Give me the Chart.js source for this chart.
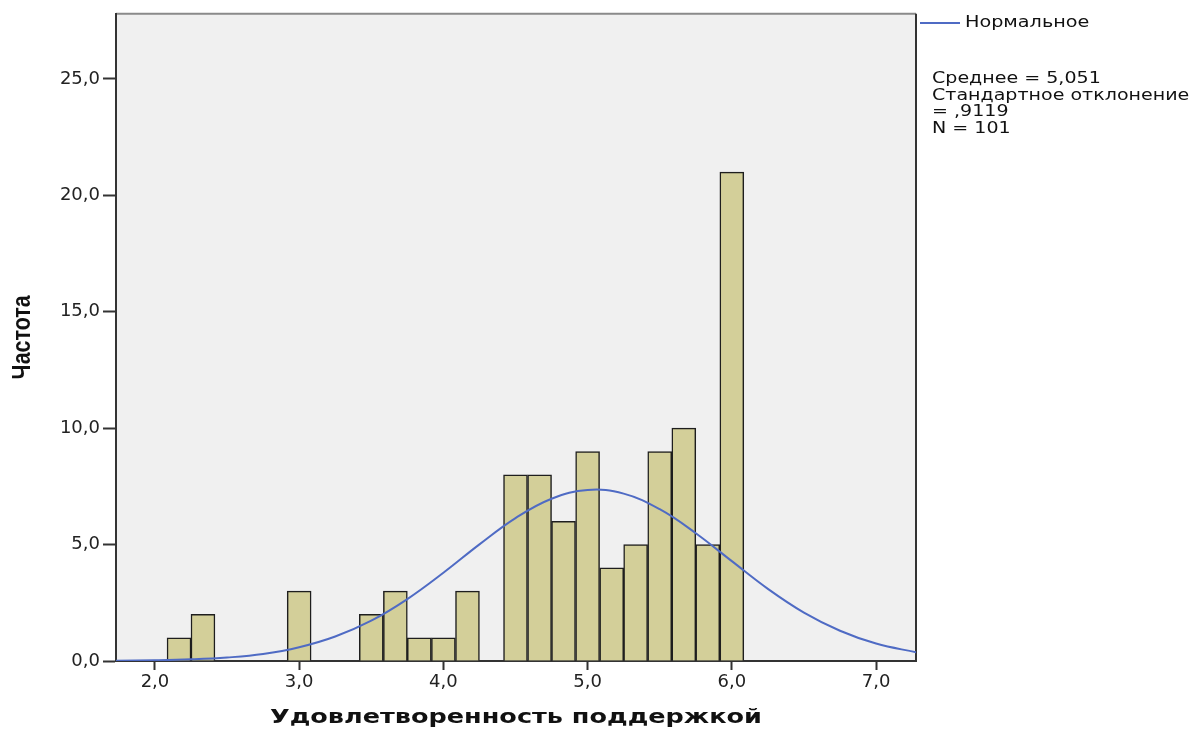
<!DOCTYPE html>
<html lang="ru">
<head>
<meta charset="UTF-8">
<title>Удовлетворенность поддержкой</title>
<script src="https://cdn.jsdelivr.net/npm/chart.js"></script>
<style>
    body { margin: 0; background: #ffffff; }
    .wrap { position: relative; width: 1202px; height: 731px; }
    .legend { position: absolute; left: 920px; top: 0; font-family: 'DejaVu Sans', sans-serif; font-size: 15px; color: #111; }
    .legend .item { position: absolute; left: 0; top: 13px; white-space: nowrap; }
    .legend .swatch { position: absolute; left: 0; top: 9px; width: 40px; border-top: 2px solid #4f6bc4; }
    .legend .label { position: absolute; left: 45px; top: 0; line-height: 18px; transform: scaleX(1.28); transform-origin: left top; }
    .stats { position: absolute; left: 12px; top: 70px; line-height: 16.7px; white-space: nowrap; transform: scaleX(1.27); transform-origin: left top; }
</style>
</head>
<body>
<div class="wrap">
    <canvas id="histChart" width="1202" height="731"></canvas>
    <div class="legend">
        <div class="item"><span class="swatch"></span><span class="label">Нормальное</span></div>
        <div class="stats">Среднее = 5,051<br>Стандартное отклонение<br>= ,9119<br>N = 101</div>
    </div>
</div>
<script>
// histogram bins (centres) and frequencies
const binCenters = [2.167, 2.333, 3.0, 3.5, 3.667, 3.833, 4.0, 4.167, 4.5, 4.667, 4.833, 5.0, 5.167, 5.333, 5.5, 5.667, 5.833, 6.0];
const counts     = [1, 2, 3, 2, 3, 1, 1, 3, 8, 8, 6, 9, 4, 5, 9, 10, 5, 21];

// normal curve
const curveX = [1.73, 2.0, 2.25, 2.5, 2.75, 3.0, 3.25, 3.5, 3.75, 4.0, 4.25, 4.5, 4.75, 5.0, 5.25, 5.5, 5.75, 6.0, 6.25, 6.5, 6.75, 7.0, 7.28];
const curveY = [0.01, 0.03, 0.07, 0.15, 0.3, 0.59, 1.05, 1.73, 2.66, 3.79, 5.01, 6.14, 6.97, 7.35, 7.19, 6.52, 5.49, 4.29, 3.1, 2.08, 1.3, 0.75, 0.37];

const xTicks = [2, 3, 4, 5, 6, 7];
const yTicks = [0, 5, 10, 15, 20, 25];
const xTitle = 'Удовлетворенность поддержкой';
const yTitle = 'Частота';

const fmt = v => v.toFixed(1).replace('.', ',');

// grey plot background + top/right frame
const plotFrame = {
    id: 'plotFrame',
    beforeDraw(chart) {
        const { ctx, chartArea: a } = chart;
        ctx.save();
        ctx.fillStyle = '#f0f0f0';
        ctx.fillRect(a.left, a.top, a.right - a.left, a.bottom - a.top);
        ctx.lineWidth = 2;
        ctx.strokeStyle = '#8a8a8a';
        ctx.beginPath();
        ctx.moveTo(a.left, a.top);
        ctx.lineTo(a.right, a.top);
        ctx.stroke();
        ctx.strokeStyle = '#333';
        ctx.beginPath();
        ctx.moveTo(a.right, a.top);
        ctx.lineTo(a.right, a.bottom);
        ctx.stroke();
        ctx.restore();
    }
};

// axis titles, stretched / squeezed like the SPSS export
const axisTitles = {
    id: 'axisTitles',
    afterDraw(chart) {
        const { ctx, chartArea: a } = chart;
        ctx.save();
        ctx.fillStyle = '#111';
        ctx.textAlign = 'center';
        ctx.textBaseline = 'middle';

        ctx.font = 'bold 20px "DejaVu Sans", sans-serif';
        let w = ctx.measureText(xTitle).width;
        ctx.save();
        ctx.translate((a.left + a.right) / 2, 718);
        ctx.scale(492 / w, 1);
        ctx.fillText(xTitle, 0, 0);
        ctx.restore();

        ctx.font = 'bold 26px "Liberation Sans", Arial, sans-serif';
        w = ctx.measureText(yTitle).width;
        ctx.save();
        ctx.translate(23, (a.top + a.bottom) / 2);
        ctx.rotate(-Math.PI / 2);
        ctx.scale(84 / w, 1);
        ctx.fillText(yTitle, 0, 0);
        ctx.restore();

        ctx.restore();
    }
};

new Chart(document.getElementById('histChart'), {
    data: {
        datasets: [
            {
                type: 'line',
                label: 'Нормальное',
                data: curveX.map((x, i) => ({ x: x, y: curveY[i] })),
                borderColor: '#4f6bc4',
                borderWidth: 2,
                pointRadius: 0,
                tension: 0.4,
                order: 1
            },
            {
                type: 'bar',
                label: 'Частота',
                data: binCenters.map((x, i) => ({ x: x, y: counts[i] })),
                backgroundColor: '#d3cf99',
                borderColor: '#1e1e1e',
                borderWidth: 1.5,
                barPercentage: 1,
                categoryPercentage: 1,
                order: 2
            }
        ]
    },
    options: {
        responsive: false,
        animation: false,
        devicePixelRatio: 1,
        layout: { padding: { top: 12, right: 286, left: 0, bottom: 0 } },
        scales: {
            x: {
                type: 'linear',
                offset: false,
                min: 1.73,
                max: 7.277,
                afterBuildTicks: s => { s.ticks = xTicks.map(v => ({ value: v })); },
                afterFit: s => { s.height = 70; },
                grid: { offset: false, drawOnChartArea: false, drawTicks: true, tickLength: 9, tickWidth: 2, tickColor: '#333' },
                border: { display: true, color: '#333', width: 2 },
                ticks: {
                    callback: v => fmt(v),
                    color: '#222',
                    padding: 2,
                    maxRotation: 0,
                    font: { family: '"DejaVu Sans", sans-serif', size: 18 }
                },
                title: { display: false }
            },
            y: {
                type: 'linear',
                min: 0,
                max: 27.8,
                afterBuildTicks: s => { s.ticks = yTicks.map(v => ({ value: v })); },
                afterFit: s => { s.width = 116; },
                grid: { drawOnChartArea: false, drawTicks: true, tickLength: 13, tickWidth: 2, tickColor: '#333' },
                border: { display: true, color: '#333', width: 2 },
                ticks: {
                    callback: v => fmt(v),
                    color: '#222',
                    padding: 3,
                    font: { family: '"DejaVu Sans", sans-serif', size: 18 }
                },
                title: { display: false }
            }
        },
        plugins: {
            legend: { display: false },
            tooltip: { enabled: false }
        }
    },
    plugins: [plotFrame, axisTitles]
});
</script>
</body>
</html>
